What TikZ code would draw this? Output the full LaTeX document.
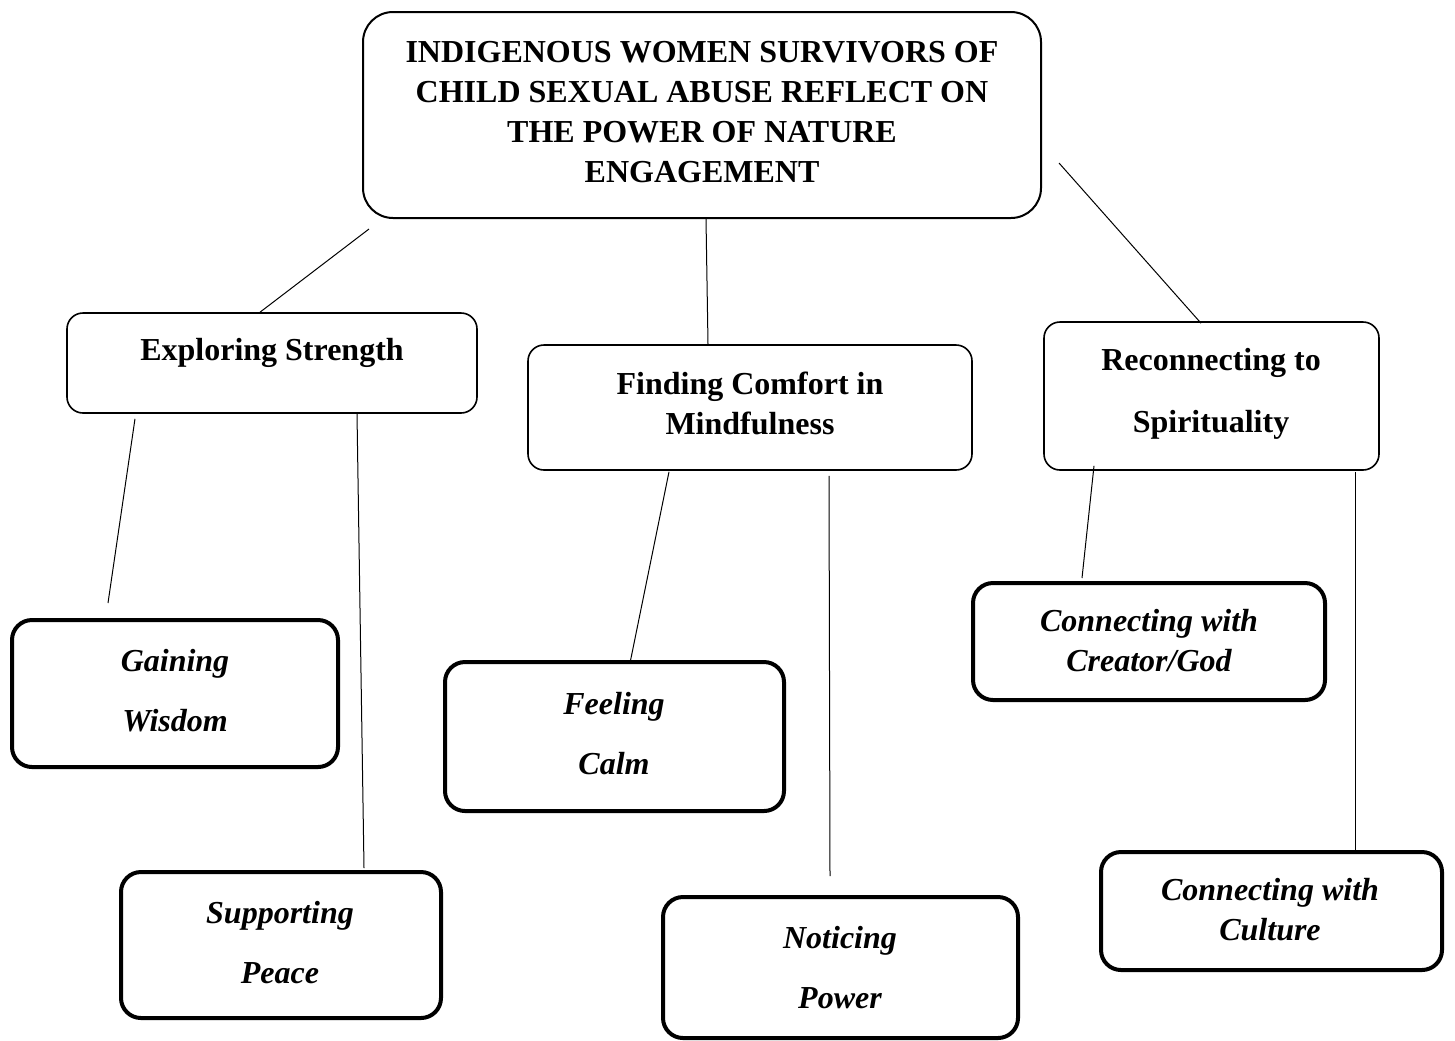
\documentclass[tikz,border=0pt]{standalone}
\usepackage{fontspec}
\setmainfont{Liberation Serif}

\tikzset{
    mainbox/.style={draw, line width=1pt, rounded corners=15pt, inner sep=0pt},
    themebox/.style={draw, line width=0.8pt, rounded corners=8pt, inner sep=0pt},
    subbox/.style={draw, line width=2pt, rounded corners=10pt, inner sep=0pt},
    link/.style={line width=0.5pt},
    headtext/.style={align=center, inner sep=0pt, font=\bfseries\fontsize{16}{20}\selectfont},
    subtext/.style={align=center, inner sep=0pt, font=\bfseries\itshape\fontsize{16}{30}\selectfont}
}

\begin{document}
\begin{tikzpicture}[x=0.5pt, y=-0.5pt]
    \useasboundingbox (0,0) rectangle (1455,1040);

%boxes
    \node[mainbox, minimum width=339pt, minimum height=103pt] (top) at (702,115) {};
    \node[themebox, minimum width=205pt, minimum height=50pt] (strength) at (272,363) {};
    \node[themebox, minimum width=222pt, minimum height=62.5pt] (comfort) at (750,407.5) {};
    \node[themebox, minimum width=167.5pt, minimum height=74pt] (spirit) at (1211.5,396) {};

    \node[subbox, minimum width=163pt, minimum height=73.5pt] (wisdom) at (175,693.5) {};
    \node[subbox, minimum width=160pt, minimum height=73pt] (peace) at (281,945) {};
    \node[subbox, minimum width=169.5pt, minimum height=74.5pt] (calm) at (614.5,736.5) {};
    \node[subbox, minimum width=177.5pt, minimum height=70.5pt] (power) at (840.5,967.5) {};
    \node[subbox, minimum width=176pt, minimum height=58.5pt] (creator) at (1149,641.5) {};
    \node[subbox, minimum width=170.5pt, minimum height=59pt] (culture) at (1271.5,911) {};

%texts
    \node[headtext] (toptxt) at (702,112) {INDIGENOUS WOMEN SURVIVORS OF\\CHILD SEXUAL ABUSE REFLECT ON\\THE POWER OF NATURE\\ENGAGEMENT};
    \node[headtext] (strengthtxt) at (272,353) {Exploring Strength};
    \node[headtext] (comforttxt) at (750,403) {Finding Comfort in\\Mindfulness};
    \node[headtext, font=\bfseries\fontsize{16}{31}\selectfont] (spirittxt) at (1211,394) {Reconnecting to\\Spirituality};

    \node[subtext] (wisdomtxt) at (175,691) {Gaining\\Wisdom};
    \node[subtext] (peacetxt) at (280,943) {Supporting\\Peace};
    \node[subtext] (calmtxt) at (614,734) {Feeling\\Calm};
    \node[subtext] (powertxt) at (840,968) {Noticing\\Power};
    \node[subtext, font=\bfseries\itshape\fontsize{16}{20}\selectfont] (creatortxt) at (1149,641) {Connecting with\\Creator/God};
    \node[subtext, font=\bfseries\itshape\fontsize{16}{20}\selectfont] (culturetxt) at (1270,910) {Connecting with\\Culture};

%top to themes
    \draw[link] ([shift={(7,10)}]top.south west) -- ([shift={(-12,0)}]strength.north);
    \draw[link] ([shift={(4,0)}]top.south) -- ([shift={(-42,0)}]comfort.north);
    \draw[link] ([shift={(17,48)}]top.east) -- ([shift={(-10.5,2)}]spirit.north);

%strength
    \draw[link] ([shift={(-137,5)}]strength.south) -- ([shift={(-67,-15)}]wisdom.north);
    \draw[link] ([shift={(85,0)}]strength.south) -- ([shift={(83,-2)}]peace.north);

%comfort
    \draw[link] ([shift={(-81,1)}]comfort.south) -- ([shift={(15.5,3)}]calm.north);
    \draw[link] ([shift={(79,5)}]comfort.south) -- ([shift={(-10.5,-19)}]power.north);

%spirit
    \draw[link] ([shift={(-117.5,-5)}]spirit.south) -- ([shift={(-67,-3)}]creator.north);
    \draw[link] ([shift={(143.5,1)}]spirit.south) -- ([shift={(83.5,0)}]culture.north);

\end{tikzpicture}
\end{document}
